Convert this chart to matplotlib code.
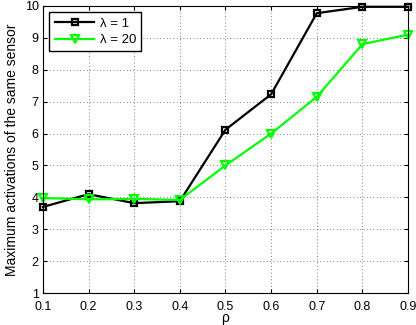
import matplotlib
matplotlib.use("Agg")
import matplotlib.pyplot as plt

rho = [0.1, 0.2, 0.3, 0.4, 0.5, 0.6, 0.7, 0.8, 0.9]
lam1 = [3.70, 4.10, 3.82, 3.88, 6.12, 7.23, 9.77, 9.97, 9.97]
lam20 = [3.98, 3.94, 3.95, 3.92, 5.00, 6.00, 7.15, 8.80, 9.10]

plt.rcParams['font.family'] = ['Liberation Sans', 'DejaVu Sans']

fig = plt.figure(figsize=(4.16, 3.25), dpi=100)
ax = fig.add_axes([0.103, 0.098, 0.878, 0.884])

ax.plot(rho, lam1, color='black', lw=1.6, marker='s', markersize=5,
        markerfacecolor='none', markeredgewidth=1.6, label='λ = 1', clip_on=False)
ax.plot(rho, lam20, color='#00ff00', lw=1.6, marker='v', markersize=6,
        markerfacecolor='none', markeredgewidth=1.6, label='λ = 20', clip_on=False)

ax.set_xlim(0.1, 0.9)
ax.set_ylim(1, 10)
ax.set_xticks(rho)
ax.set_xticklabels([f"{v:.1f}" for v in rho])
ax.set_yticks(range(1, 11))
ax.tick_params(direction='in', labelsize=9, length=3, top=True, right=True)
ax.tick_params(axis='x', pad=5.5)
ax.tick_params(axis='y', pad=3)
ax.grid(True, linestyle=(0, (1, 3)), color='#555555', lw=0.6)
ax.set_xlabel('ρ', fontsize=10, labelpad=-1)
ax.set_ylabel('Maximum activations of the same sensor', fontsize=10, labelpad=4)

leg = ax.legend(loc='upper left', fontsize=9.5, fancybox=False, framealpha=1,
                edgecolor='black', handlelength=3, borderaxespad=0.5,
                handletextpad=0.4, borderpad=0.4, labelspacing=0.3)
leg.get_frame().set_linewidth(1.0)

fig.savefig('out.png', dpi=100)
